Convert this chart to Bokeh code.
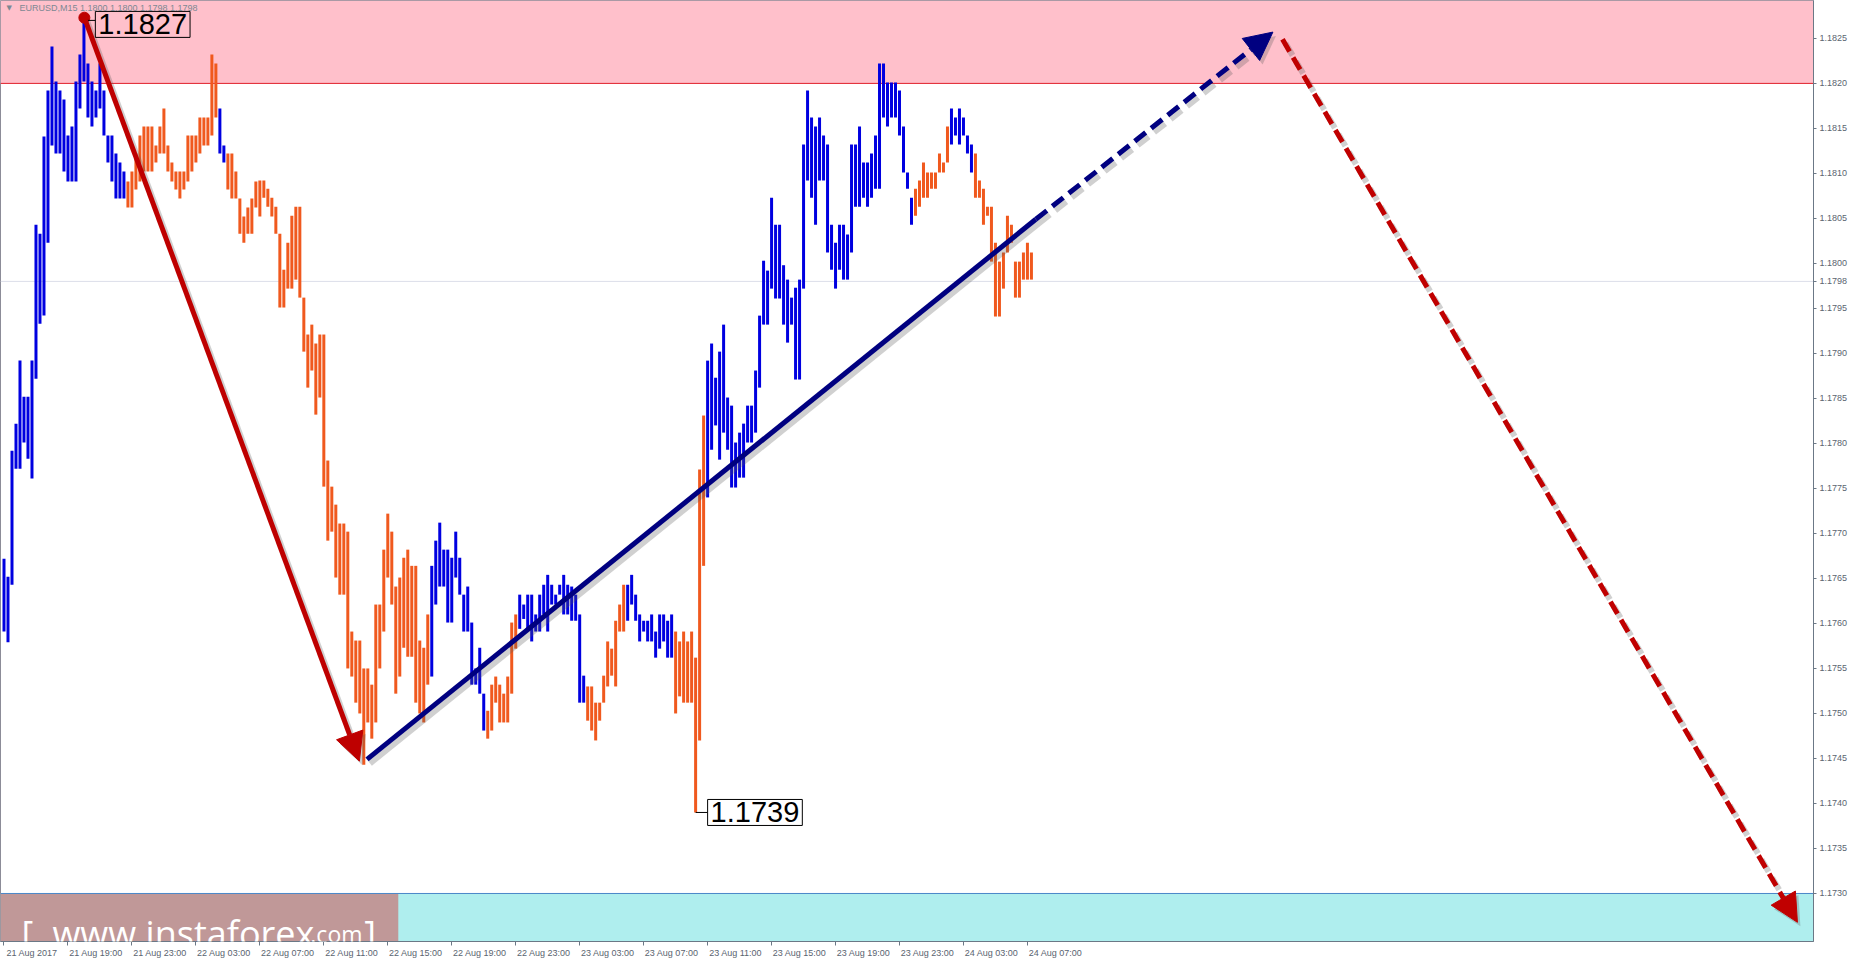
from bokeh.plotting import figure
from bokeh.models import (ColumnDataSource, Range1d, FixedTicker, PrintfTickFormatter,
                          BoxAnnotation, Span, Arrow, NormalHead, Label)
from bokeh.embed import file_html
from bokeh.resources import INLINE

# ---------------- data (EURUSD, M15; bar index 0 = 21 Aug 2017 15:00) ----------------
highs = [
    1.17672, 1.17652, 1.17792, 1.17822, 1.17892, 1.17852, 1.17852, 1.17892, 1.18043, 1.18033,  # 0
    1.18141, 1.18192, 1.18241, 1.18202, 1.18192, 1.18182, 1.18142, 1.18152, 1.18202, 1.18232,  # 10
    1.18270, 1.18222, 1.18202, 1.18192, 1.18222, 1.18192, 1.18142, 1.18142, 1.18122, 1.18112,  # 20
    1.18102, 1.18091, 1.18102, 1.18122, 1.18142, 1.18152, 1.18152, 1.18152, 1.18131, 1.18152,  # 30
    1.18172, 1.18131, 1.18112, 1.18102, 1.18102, 1.18102, 1.18142, 1.18142, 1.18142, 1.18162,  # 40
    1.18162, 1.18162, 1.18232, 1.18222, 1.18172, 1.18131, 1.18122, 1.18122, 1.18102, 1.18072,  # 50
    1.18052, 1.18062, 1.18072, 1.18091, 1.18092, 1.18092, 1.18083, 1.18073, 1.18063, 1.18033,  # 60
    1.17993, 1.18023, 1.18053, 1.18063, 1.18063, 1.17962, 1.17921, 1.17932, 1.17911, 1.17921,  # 70
    1.17921, 1.17781, 1.17752, 1.17732, 1.17711, 1.17711, 1.17702, 1.17591, 1.17581, 1.17581,  # 80
    1.17550, 1.17550, 1.17532, 1.17621, 1.17621, 1.17682, 1.17722, 1.17702, 1.17641, 1.17651,  # 90
    1.17673, 1.17682, 1.17664, 1.17664, 1.17581, 1.17573, 1.17610, 1.17664, 1.17692, 1.17712,  # 100
    1.17682, 1.17682, 1.17673, 1.17702, 1.17673, 1.17632, 1.17641, 1.17601, 1.17550, 1.17573,  # 110
    1.17522, 1.17503, 1.17532, 1.17541, 1.17532, 1.17522, 1.17541, 1.17601, 1.17610, 1.17632,  # 120
    1.17621, 1.17632, 1.17632, 1.17610, 1.17632, 1.17643, 1.17654, 1.17643, 1.17632, 1.17643,  # 130
    1.17654, 1.17643, 1.17641, 1.17632, 1.17610, 1.17542, 1.17530, 1.17530, 1.17512, 1.17512,  # 140
    1.17542, 1.17580, 1.17572, 1.17603, 1.17621, 1.17643, 1.17643, 1.17654, 1.17632, 1.17610,  # 150
    1.17603, 1.17603, 1.17610, 1.17591, 1.17610, 1.17610, 1.17603, 1.17610, 1.17591, 1.17580,  # 160
    1.17591, 1.17580, 1.17591, 1.17562, 1.17771, 1.17831, 1.17892, 1.17911, 1.17873, 1.17902,  # 170
    1.17932, 1.17851, 1.17842, 1.17801, 1.17812, 1.17822, 1.17842, 1.17842, 1.17881, 1.17942,  # 180
    1.18003, 1.17992, 1.18073, 1.18043, 1.18043, 1.17998, 1.17982, 1.17962, 1.17973, 1.17982,  # 190
    1.18132, 1.18192, 1.18162, 1.18152, 1.18162, 1.18142, 1.18132, 1.18043, 1.18023, 1.18043,  # 200
    1.18043, 1.18032, 1.18132, 1.18132, 1.18152, 1.18112, 1.18112, 1.18122, 1.18142, 1.18222,  # 210
    1.18222, 1.18201, 1.18201, 1.18201, 1.18192, 1.18152, 1.18101, 1.18073, 1.18083, 1.18092,  # 220
    1.18112, 1.18101, 1.18101, 1.18101, 1.18122, 1.18112, 1.18152, 1.18172, 1.18162, 1.18172,  # 230
    1.18162, 1.18142, 1.18132, 1.18122, 1.18092, 1.18083, 1.18063, 1.18063, 1.18023, 1.18002,  # 240
    1.18012, 1.18053, 1.18043, 1.18002, 1.18002, 1.18012, 1.18023, 1.18012,                    # 250
]
lows = [
    1.17591, 1.17579, 1.17643, 1.17772, 1.17772, 1.17801, 1.17783, 1.17761, 1.17872, 1.17933,  # 0
    1.17942, 1.18023, 1.18131, 1.18122, 1.18122, 1.18102, 1.18091, 1.18091, 1.18091, 1.18172,  # 10
    1.18202, 1.18162, 1.18152, 1.18162, 1.18172, 1.18142, 1.18112, 1.18091, 1.18072, 1.18072,  # 20
    1.18072, 1.18062, 1.18062, 1.18082, 1.18091, 1.18102, 1.18102, 1.18102, 1.18112, 1.18122,  # 30
    1.18122, 1.18102, 1.18091, 1.18082, 1.18072, 1.18082, 1.18091, 1.18102, 1.18112, 1.18122,  # 40
    1.18131, 1.18131, 1.18142, 1.18162, 1.18122, 1.18112, 1.18082, 1.18072, 1.18072, 1.18033,  # 50
    1.18023, 1.18033, 1.18033, 1.18062, 1.18052, 1.18073, 1.18063, 1.18052, 1.18033, 1.17951,  # 60
    1.17951, 1.17972, 1.17972, 1.17982, 1.17962, 1.17902, 1.17862, 1.17881, 1.17832, 1.17851,  # 70
    1.17752, 1.17692, 1.17702, 1.17651, 1.17632, 1.17632, 1.17550, 1.17541, 1.17512, 1.17500,  # 80
    1.17443, 1.17490, 1.17472, 1.17490, 1.17550, 1.17591, 1.17651, 1.17621, 1.17522, 1.17541,  # 90
    1.17573, 1.17563, 1.17563, 1.17512, 1.17500, 1.17490, 1.17532, 1.17541, 1.17621, 1.17641,  # 100
    1.17641, 1.17601, 1.17601, 1.17651, 1.17632, 1.17591, 1.17591, 1.17532, 1.17532, 1.17522,  # 110
    1.17481, 1.17472, 1.17481, 1.17512, 1.17490, 1.17490, 1.17490, 1.17522, 1.17572, 1.17594,  # 120
    1.17605, 1.17594, 1.17580, 1.17591, 1.17591, 1.17610, 1.17591, 1.17621, 1.17621, 1.17632,  # 130
    1.17610, 1.17610, 1.17603, 1.17603, 1.17512, 1.17512, 1.17492, 1.17481, 1.17470, 1.17492,  # 140
    1.17512, 1.17530, 1.17542, 1.17530, 1.17591, 1.17591, 1.17603, 1.17621, 1.17603, 1.17580,  # 150
    1.17591, 1.17580, 1.17580, 1.17562, 1.17572, 1.17580, 1.17562, 1.17562, 1.17500, 1.17519,  # 160
    1.17512, 1.17512, 1.17512, 1.17390, 1.17470, 1.17664, 1.17740, 1.17793, 1.17820, 1.17782,  # 170
    1.17812, 1.17793, 1.17751, 1.17751, 1.17762, 1.17762, 1.17801, 1.17801, 1.17812, 1.17862,  # 180
    1.17932, 1.17932, 1.17972, 1.17961, 1.17961, 1.17932, 1.17912, 1.17932, 1.17871, 1.17871,  # 190
    1.17972, 1.18092, 1.18073, 1.18043, 1.18092, 1.18092, 1.18012, 1.17993, 1.17972, 1.17993,  # 200
    1.17982, 1.17982, 1.18012, 1.18063, 1.18063, 1.18073, 1.18063, 1.18073, 1.18083, 1.18083,  # 210
    1.18162, 1.18152, 1.18162, 1.18162, 1.18142, 1.18101, 1.18083, 1.18043, 1.18053, 1.18063,  # 220
    1.18073, 1.18073, 1.18083, 1.18083, 1.18101, 1.18101, 1.18112, 1.18132, 1.18142, 1.18132,  # 230
    1.18142, 1.18122, 1.18101, 1.18073, 1.18073, 1.18043, 1.18053, 1.18002, 1.17941, 1.17941,  # 240
    1.17972, 1.18012, 1.18023, 1.17962, 1.17962, 1.17982, 1.17982, 1.17982,                    # 250
]
# trend colouring of the bars, as runs of (direction, number of bars)
trend_runs = [("up", 31), ("down", 23), ("up", 2), ("down", 51), ("up", 14), ("down", 8),
              ("up", 17), ("down", 10), ("up", 12), ("down", 8), ("up", 52), ("down", 9),
              ("up", 6), ("down", 15)]

time_tick_bars = [0, 16, 32, 48, 64, 80, 96, 112, 128, 144, 160, 176, 192, 208, 224, 240, 256]
time_labels = ["21 Aug 2017", "21 Aug 19:00", "21 Aug 23:00", "22 Aug 03:00", "22 Aug 07:00",
               "22 Aug 11:00", "22 Aug 15:00", "22 Aug 19:00", "22 Aug 23:00", "23 Aug 03:00",
               "23 Aug 07:00", "23 Aug 11:00", "23 Aug 15:00", "23 Aug 19:00", "23 Aug 23:00",
               "24 Aug 03:00", "24 Aug 07:00"]
price_ticks = [1.1730, 1.1735, 1.1740, 1.1745, 1.1750, 1.1755, 1.1760, 1.1765, 1.1770, 1.1775,
               1.1780, 1.1785, 1.1790, 1.1795, 1.1800, 1.1805, 1.1810, 1.1815, 1.1820, 1.1825]

resistance_zone_low = 1.1820
support_zone_high = 1.1730
last_price = 1.1798
title_text = "EURUSD,M15  1.1800 1.1800 1.1798 1.1798"

high_bar, high_price, high_text = 20, 1.18270, "1.1827"
low_bar, low_price, low_text = 173, 1.17390, "1.1739"

# wave marks (bar index, price)
wave_down = [(20.1, 1.18273), (88.9, 1.17447)]
wave_up = [(90.8, 1.17449), (258.1, 1.18049), (317.4, 1.18257)]   # solid, then dashed forecast
forecast_down = [(319.8, 1.18249), (448.6, 1.17268)]

# ---------------- layout ----------------
W, H = 1850, 960
BORDER_R, BORDER_B = 36, 17
FRAME_W, FRAME_H = W - BORDER_R, H - BORDER_B
PPP = 90200.0                   # pixels per 1.0 of price
PRICE_AT_Y0 = 1.182921          # price at pixel row 0
PPB = 4.0                       # pixels per bar
X0 = -0.875                     # bar value at pixel column 0
X1 = X0 + FRAME_W / PPB


def price_at(py):
    return PRICE_AT_Y0 - py / PPP


def bar_at(px):
    return X0 + px / PPB


UP_COL, DOWN_COL = "#0000E0", "#F0591E"
RED, NAVY = "#BE0000", "#000080"
AX_COL, LAB_COL = "#6B7886", "#5A6470"

p = figure(width=W, height=H, x_range=Range1d(X0, X1),
           y_range=Range1d(price_at(FRAME_H), price_at(0)),
           y_axis_location="right", toolbar_location=None, output_backend="svg",
           min_border_left=0, min_border_top=0, min_border_right=BORDER_R,
           min_border_bottom=BORDER_B, background_fill_color="white",
           border_fill_color="white", outline_line_color="#8C8C98")
p.xgrid.visible = False
p.ygrid.visible = False

# price axis (the current price is marked on it as well)
ya = p.yaxis[0]
ya.ticker = FixedTicker(ticks=price_ticks + [last_price])
ya.formatter = PrintfTickFormatter(format="%.4f")
ya.major_label_text_font = "Liberation Sans"
ya.major_label_text_font_size = "9px"
ya.major_label_text_color = LAB_COL
ya.axis_line_color = AX_COL
ya.major_tick_line_color = AX_COL
ya.major_tick_out = 3
ya.major_tick_in = 0
ya.minor_tick_out = 0
ya.minor_tick_in = 0
ya.major_label_standoff = 3

# time axis: labels start at the tick (left aligned), ticks drawn as minor ticks
LABEL_SHIFT = 7
xa = p.xaxis[0]
xa.ticker = FixedTicker(ticks=[t + LABEL_SHIFT for t in time_tick_bars], minor_ticks=time_tick_bars)
xa.major_label_overrides = {t + LABEL_SHIFT: lab for t, lab in zip(time_tick_bars, time_labels)}
xa.major_label_text_font = "Liberation Sans"
xa.major_label_text_font_size = "9px"
xa.major_label_text_color = LAB_COL
xa.axis_line_color = AX_COL
xa.major_tick_out = 0
xa.major_tick_in = 0
xa.minor_tick_out = 4
xa.minor_tick_in = 0
xa.minor_tick_line_color = AX_COL
xa.major_label_standoff = 2

# zones
p.add_layout(BoxAnnotation(bottom=resistance_zone_low, fill_color="#FFC0CB", fill_alpha=1.0,
                           line_color=None, level="underlay"))
p.add_layout(BoxAnnotation(top=support_zone_high, fill_color="#AFEEEE", fill_alpha=1.0,
                           line_color=None, level="underlay"))
# logo plate
p.add_layout(BoxAnnotation(right=bar_at(398), top=support_zone_high, fill_color="#D14141",
                           fill_alpha=0.5, line_color=None, level="underlay"))
p.add_layout(Span(location=last_price, dimension="width", line_color="#DCDFEA", line_width=1,
                  level="underlay"))
p.add_layout(Span(location=resistance_zone_low, dimension="width", line_color="#E0202A",
                  line_width=1, level="underlay"))
p.add_layout(Span(location=support_zone_high, dimension="width", line_color="#4A86C8",
                  line_width=1, level="underlay"))

# bars
colors = []
for d, n in trend_runs:
    colors += [UP_COL if d == "up" else DOWN_COL] * n
src = ColumnDataSource(dict(x=list(range(len(highs))), high=highs, low=lows, color=colors))
p.segment(x0="x", y0="low", x1="x", y1="high", line_color="color", line_width=3, source=src)

# shadows and wave arrows
SDX, SDY = 3 / PPB, -4 / PPP
SH = dict(line_color="#555555", line_alpha=0.28)


def arrow(a, b, color, dash="solid", shadow=True):
    if shadow:
        p.add_layout(Arrow(x_start=a[0] + SDX, y_start=a[1] + SDY, x_end=b[0] + SDX, y_end=b[1] + SDY,
                           line_width=6, line_dash=dash,
                           end=NormalHead(size=28, fill_color="#555555", fill_alpha=0.28,
                                          line_color=None), **SH))
    p.add_layout(Arrow(x_start=a[0], y_start=a[1], x_end=b[0], y_end=b[1],
                       line_color=color, line_width=5, line_dash=dash,
                       end=NormalHead(size=28, fill_color=color, line_color=color, line_width=1)))


arrow(wave_down[0], wave_down[1], RED)
# navy: solid part then dashed forecast
p.line([wave_up[0][0] + SDX, wave_up[1][0] + SDX], [wave_up[0][1] + SDY, wave_up[1][1] + SDY],
       line_width=6, **SH)
p.line([wave_up[0][0], wave_up[1][0]], [wave_up[0][1], wave_up[1][1]], line_color=NAVY, line_width=5)
arrow(wave_up[1], wave_up[2], NAVY, dash="14 7")
arrow(forecast_down[0], forecast_down[1], "#C00000", dash="14 7")

p.scatter([wave_down[0][0]], [wave_down[0][1]], size=11, color=RED)

# extreme labels
p.segment([wave_down[0][0]], [high_price], [wave_down[0][0] + 11 / PPB], [high_price],
          line_color="black", line_width=1)
p.add_layout(Label(x=wave_down[0][0], y=high_price, x_offset=11, y_offset=-4, text=high_text,
                   text_font="Liberation Sans", text_font_size="29px", text_color="black",
                   text_align="left", text_baseline="middle", border_line_color="black",
                   border_line_width=1, padding=3))
p.segment([low_bar], [low_price], [low_bar + 12 / PPB], [low_price], line_color="black", line_width=1)
p.add_layout(Label(x=low_bar, y=low_price, x_offset=12, text=low_text,
                   text_font="Liberation Sans", text_font_size="29px", text_color="black",
                   text_align="left", text_baseline="middle", border_line_color="black",
                   border_line_width=1, background_fill_color="white", padding=3))

# title
p.add_layout(Label(x=bar_at(6), y=price_at(8), text="\u25bc", text_font="DejaVu Sans",
                   text_font_size="7px", text_color="#7D8893", text_baseline="middle"))
p.add_layout(Label(x=bar_at(19), y=price_at(8), text=title_text, text_font="Liberation Sans",
                   text_font_size="9px", text_color="#7D8893", text_baseline="middle"))

# logo text
for txt, px, size in [("[", 21, "36px"), ("www.instaforex", 52, "36px"), (".com", 310, "23px"),
                      ("]", 364, "36px")]:
    p.add_layout(Label(x=bar_at(px), y=price_at(935), text=txt, text_font="Open Sans",
                       text_font_size=size, text_color="white", text_baseline="alphabetic",
                       text_align="left"))

open("out.html", "w").write(file_html(p, INLINE, title="EURUSD M15"))
